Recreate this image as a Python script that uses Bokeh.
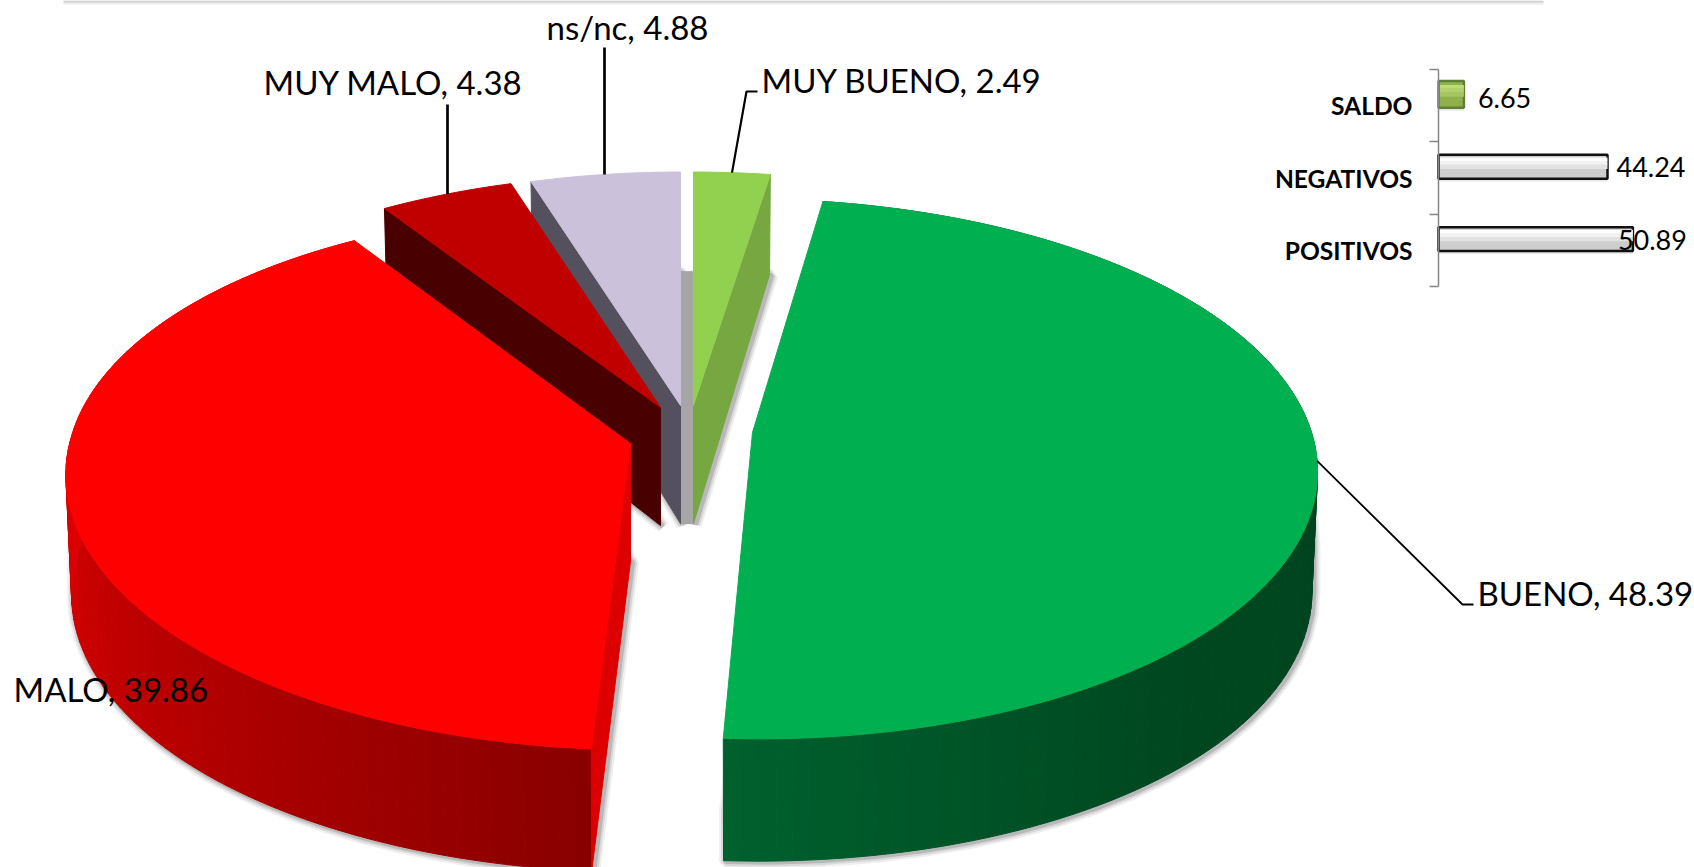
import numpy as np
from bokeh.embed import file_html
from bokeh.resources import INLINE
from bokeh.plotting import figure
from bokeh.models import ColumnDataSource, Range1d, LinearAxis, FixedTicker
from bokeh.core.properties import value

# ---------- data ----------
slice_names = ["MUY BUENO", "BUENO", "MALO", "MUY MALO", "ns/nc"]
slice_values = [2.49, 48.39, 39.86, 4.38, 4.88]
bar_names = ["POSITIVOS", "NEGATIVOS", "SALDO"]
bar_values = [50.89, 44.24, 6.65]

# ---------- geometry / style ----------
W, H = 1694, 867
RX, RY, K = 559.0, 265.0, 0.135
APEX = {"MUY BUENO": (693, 405), "BUENO": (752, 432), "MALO": (630, 443),
        "MUY MALO": (660, 407), "ns/nc": (680, 405)}
SHEAR = {"BUENO": -6.5}
FRONT_SHEAR = {"MALO": 3.5}
SIDE_LIFT = {"MALO": 7.0}
TOP = {"MUY BUENO": "#92d050", "BUENO": "#00b050", "MALO": "#ff0000",
       "MUY MALO": "#c00000", "ns/nc": "#ccc1da"}
FONT = "Lato"
TEXT_LIFT = 11.5


def depth(th):
    c = np.cos(np.radians(th))
    return 118 - 11.3 * c - 7 * c * c


def rim(name, th, bottom=False):
    ax, ay = APEX[name]
    r = np.radians(th)
    c, s = np.cos(r), np.sin(r)
    w = 1 + K * c
    x = ax + RX * s / w + SHEAR.get(name, 0) * c + FRONT_SHEAR.get(name, 0) * min(c, 0)
    y = ay - RY * c / w - SIDE_LIFT.get(name, 0) * abs(s)
    if bottom:
        x = ax + (x - ax) * 0.99
        y = y + depth(th)
    return float(x), float(y)


def hull(pts):
    pts = sorted(set(pts))

    def half(seq):
        out = []
        for p in seq:
            while len(out) > 1 and ((out[-1][0] - out[-2][0]) * (p[1] - out[-2][1])
                                    - (out[-1][1] - out[-2][1]) * (p[0] - out[-2][0])) <= 0:
                out.pop()
            out.append(p)
        return out[:-1]
    return half(pts) + half(pts[::-1])


def ramp(th, stops):
    t = [s[0] for s in stops]
    rgb = [np.interp(th, t, [s[1][i] for s in stops]) for i in range(3)]
    return "#%02x%02x%02x" % tuple(int(round(v)) for v in rgb)


WALL_RAMP = {"BUENO": [(90, (0, 66, 30)), (140, (0, 72, 32)), (183, (0, 96, 46))],
             "MALO": [(183, (136, 0, 0)), (225, (180, 0, 0)), (270, (222, 0, 0)), (330, (222, 0, 0))]}
RADIAL = {("MUY BUENO", "end"): "#76a741", ("MALO", "start"): "#dc0000",
          ("MUY MALO", "start"): "#480000", ("ns/nc", "start"): "#54505e"}

# angular extents from the values, clockwise from twelve o'clock
edges = np.concatenate([[0], np.cumsum(slice_values)]) / sum(slice_values) * 360
span = {n: (float(edges[i]), float(edges[i + 1])) for i, n in enumerate(slice_names)}

polys = []


def add(xy, color):
    polys.append(([p[0] for p in xy], [p[1] for p in xy], color))


def draw_slice(name):
    a0, a1 = span[name]
    ap = APEX[name]
    ap_b = (ap[0], ap[1] + depth(90))
    if name in WALL_RAMP:
        ths = np.arange(a0, a1 + 1.5, 1.5)
        ths[-1] = a1
        for t0, t1 in zip(ths[:-1], ths[1:]):
            add([rim(name, t0), rim(name, t1), rim(name, t1, True), rim(name, t0, True)],
                ramp((t0 + t1) / 2, WALL_RAMP[name]))
    for side, th in (("start", a0), ("end", a1)):
        c = RADIAL.get((name, side))
        if c:
            add([rim(name, th), ap, ap_b, rim(name, th, True)], c)
    arc = [rim(name, t) for t in np.linspace(a0, a1, max(8, int(a1 - a0)))]
    add([ap] + arc, TOP[name])


# grey wedge visible in the gap between the two slices at twelve o'clock
gap_l, gap_r = rim("ns/nc", span["ns/nc"][1], True), rim("MUY BUENO", 0, True)
add([gap_l, gap_r, (APEX["MUY BUENO"][0], APEX["MUY BUENO"][1] + depth(90)),
     (APEX["ns/nc"][0], APEX["ns/nc"][1] + depth(90))], "#a6a6a6")
for n in ["ns/nc", "MUY MALO", "MUY BUENO", "BUENO", "MALO"]:
    draw_slice(n)

# ---------- figure, in reference pixels ----------
p = figure(width=W, height=H, x_range=Range1d(0, W), y_range=Range1d(H, 0),
           output_backend="svg", toolbar_location=None, min_border=0,
           margin=0, outline_line_color=None, background_fill_color="white",
           x_axis_location=None, y_axis_location=None)
p.grid.visible = False

# header strip
p.quad(left=[63], right=[1543], top=[0], bottom=[4], fill_color="#c8c8c8", fill_alpha=0.35, line_color=None)
p.quad(left=[63], right=[1543], top=[0], bottom=[2], fill_color="#c8c8c8", fill_alpha=0.7, line_color=None)

# soft shadow round the base of every slice
shx, shy = [], []
for n in slice_names:
    a0, a1 = span[n]
    ts = np.linspace(a0, a1, 40)
    pts = [rim(n, t, True) for t in ts]
    if n in WALL_RAMP:
        pts += [(x, y - 50) for x, y in pts]
    ap = APEX[n]
    pts += [(ap[0], ap[1] + depth(90))]
    h = hull(pts)
    shx.append([a[0] + 2 for a in h])
    shy.append([a[1] + 1 for a in h])
for lw, al in ((13, 0.10), (9, 0.16), (5, 0.28)):
    p.patches(shx, shy, fill_color=None, line_color="#666666", line_alpha=al, line_width=lw)

p.patches([a[0] for a in polys], [a[1] for a in polys],
          fill_color=[a[2] for a in polys], line_color=[a[2] for a in polys], line_width=1.0)


# leaders from the middle of each slice's rim
def mid(n):
    return rim(n, sum(span[n]) / 2)


LEADER_TAIL = {"MUY BUENO": [(746, 91), (757, 91)], "BUENO": [(1462, 604), (1473, 604)],
               "MUY MALO": [(447, 104)], "ns/nc": [(604, 47)]}
LEADER_W = {"MUY BUENO": 2.2, "BUENO": 1.8, "MUY MALO": 2.7, "ns/nc": 2.7}
for n, tail in LEADER_TAIL.items():
    m = mid(n)
    if n in ("MUY MALO", "ns/nc"):
        m = (tail[0][0], m[1])
    pts = [m] + tail
    p.line([a[0] for a in pts], [a[1] for a in pts], line_color="black", line_width=LEADER_W[n])

LABEL_POS = {"MUY BUENO": (761, 91), "BUENO": (1477, 604), "MALO": (13, 700),
             "MUY MALO": (263, 93), "ns/nc": (546, 38)}
lab = ColumnDataSource(dict(
    x=[LABEL_POS[n][0] for n in slice_names], y=[LABEL_POS[n][1] - TEXT_LIFT for n in slice_names],
    t=[f"{n}, {v:.2f}" for n, v in zip(slice_names, slice_values)]))
p.text("x", "y", "t", source=lab, text_font=value(FONT), text_font_size="33px",
       text_baseline="alphabetic", text_align="left", text_color="black")

# ---------- small bar chart, on its own ranges ----------
PX_PER_UNIT = 3.82
AX_X, AX_BOTTOM, AX_H = 1438, 286, 217
UNIT_Y = AX_H / len(bar_names)
p.extra_x_ranges["bx"] = Range1d(-AX_X / PX_PER_UNIT, (W - AX_X) / PX_PER_UNIT)
p.extra_y_ranges["by"] = Range1d((AX_BOTTOM - H) / UNIT_Y, AX_BOTTOM / UNIT_Y)
centres = [i + 0.5 for i in range(len(bar_names))]
bar_ax = LinearAxis(x_range_name="bx", y_range_name="by", fixed_location=0, bounds=(0, len(bar_names)),
                    ticker=FixedTicker(ticks=centres, minor_ticks=[0, 1, 2, 3]),
                    major_label_overrides={c: n for c, n in zip(centres, bar_names)},
                    major_tick_line_color=None, major_tick_out=0, major_tick_in=0,
                    minor_tick_out=9, minor_tick_in=0, minor_tick_line_color="#868686",
                    minor_tick_line_width=1.5, axis_line_color="#868686", axis_line_width=1.5,
                    major_label_text_font=FONT, major_label_text_font_style="bold",
                    major_label_text_font_size="24.6px", major_label_text_color="black",
                    major_label_standoff=17)
p.add_layout(bar_ax, "left")

OFF = 0.155
src = ColumnDataSource(dict(c=centres, val=bar_values, y=[c + OFF for c in centres],
                            ys=[c + OFF - 0.04 for c in centres],
                            xo=[-15, 9, 14], yo=[1 - TEXT_LIFT, 0 - TEXT_LIFT, 4 - TEXT_LIFT],
                            txt=[f"{v:.2f}" for v in bar_values],
                            h=[0.33, 0.33, 0.37],
                            body=["#cdcdcd", "#cdcdcd", "#8fb04c"],
                            edge=["#111111", "#111111", "#5f7f35"]))
rng = dict(x_range_name="bx", y_range_name="by")
p.hbar(y="ys", right="val", left=0, height="h", source=src,
       fill_color="#bbbbbb", fill_alpha=0.35, line_color=None, **rng)
p.hbar(y="y", right="val", left=0, height="h", source=src, fill_color="body",
       line_color="edge", line_width=2.5, **rng)
BANDS = [(0.105, 0.05, ["#ffffff", "#ffffff", "#bcdc78"]),
         (0.055, 0.06, ["#f2f2f2", "#f2f2f2", "#b2d16e"]),
         (0.000, 0.06, ["#e2e2e2", "#e2e2e2", "#a6c560"])]
for dy, bh, cols in BANDS:
    src.data[f"band{dy}"] = [c + OFF + dy for c in centres]
    src.data[f"col{dy}"] = cols
    p.hbar(y=f"band{dy}", right="val", left=0.4, height=bh, source=src,
           fill_color=f"col{dy}", line_color=None, **rng)
p.text("val", "c", "txt", source=src, x_offset="xo", y_offset="yo", text_font=value(FONT),
       text_font_size="27px", text_baseline="alphabetic", text_align="left", text_color="black", **rng)

open("out.html", "w").write(file_html(p, INLINE))
